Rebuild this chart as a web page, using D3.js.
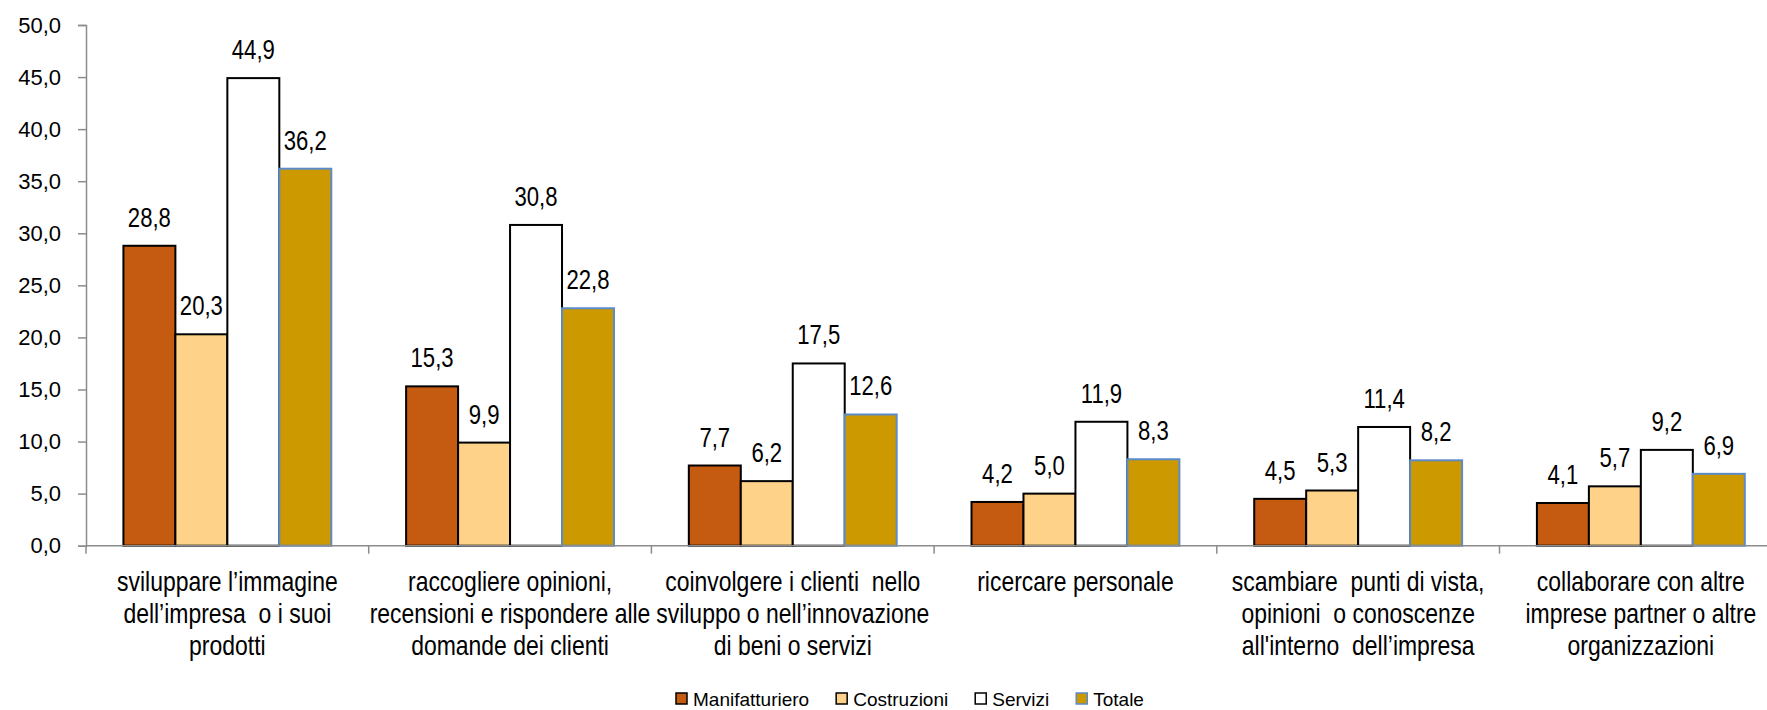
<!DOCTYPE html>
<html>
<head>
<meta charset="utf-8">
<script src="https://cdn.jsdelivr.net/npm/d3@7"></script>
<style>
  html, body { margin: 0; padding: 0; background: #fff; }
  svg { display: block; }
  text { font-family: "Liberation Sans", Arial, sans-serif; fill: #000; }
</style>
</head>
<body>
<svg id="chart" width="1767" height="710"></svg>
<script>
const categories = [
  ["sviluppare l\u2019immagine", "dell\u2019impresa  o i suoi", "prodotti"],
  ["raccogliere opinioni,", "recensioni e rispondere alle", "domande dei clienti"],
  ["coinvolgere i clienti  nello", "sviluppo o nell\u2019innovazione", "di beni o servizi"],
  ["ricercare personale"],
  ["scambiare  punti di vista,", "opinioni  o conoscenze", "all'interno  dell\u2019impresa"],
  ["collaborare con altre", "imprese partner o altre", "organizzazioni"]
];
const seriesNames = ["Manifatturiero", "Costruzioni", "Servizi", "Totale"];
const manifatturiero = [28.8, 15.3, 7.7, 4.2, 4.5, 4.1];
const costruzioni    = [20.3, 9.9, 6.2, 5.0, 5.3, 5.7];
const servizi        = [44.9, 30.8, 17.5, 11.9, 11.4, 9.2];
const totale         = [36.2, 22.8, 12.6, 8.3, 8.2, 6.9];
const yTicks = [0, 5, 10, 15, 20, 25, 30, 35, 40, 45, 50];

const seriesValues = [manifatturiero, costruzioni, servizi, totale];
const fills   = ["#C55A11", "#FFD28A", "#FFFFFF", "#CC9900"];
const strokes = ["#000000", "#000000", "#000000", "#5B8BC9"];
const strokeW = [2, 2, 2, 2];

const svg = d3.select("#chart");
const fmt = v => d3.format(".1f")(v).replace(".", ",");

const x0 = d3.scaleBand().domain(d3.range(categories.length)).range([86, 86 + 6 * 282.7]).padding(0);
const x1 = d3.scaleBand().domain(d3.range(seriesNames.length)).range([0, x0.bandwidth()])
  .paddingInner(0).paddingOuter(0.72);
const y = d3.scaleLinear().domain([0, 50]).range([545.7, 25]);

const axisColor = "#8C8C8C";

// y axis
const yAxis = svg.append("g").attr("transform", "translate(86,0)")
  .call(d3.axisLeft(y).tickValues(yTicks).tickSize(8).tickPadding(17).tickFormat(fmt));
yAxis.select(".domain").attr("stroke", axisColor).attr("stroke-width", 1.5);
yAxis.selectAll(".tick line").attr("stroke", axisColor).attr("stroke-width", 1.5);
yAxis.selectAll(".tick text").attr("font-size", 22).attr("font-family", "Liberation Sans, Arial, sans-serif").attr("fill", "#000");

// bars
const groups = svg.append("g").selectAll("g").data(categories).join("g")
  .attr("transform", (d, i) => `translate(${x0(i)},0)`);

groups.each(function(cat, ci) {
  const g = d3.select(this);
  seriesValues.forEach((vals, si) => {
    const v = vals[ci];
    g.append("rect")
      .attr("x", x1(si)).attr("width", x1.bandwidth())
      .attr("y", y(v)).attr("height", y(0) - y(v))
      .attr("fill", fills[si]).attr("stroke", strokes[si]).attr("stroke-width", strokeW[si]);
    g.append("text")
      .attr("transform", `translate(${x1(si) + x1.bandwidth() / 2},${y(v) - 19}) scale(0.82,1)`)
      .attr("text-anchor", "middle").attr("font-size", 27)
      .text(fmt(v));
  });
});

// x axis
const xAxisG = svg.append("g");
xAxisG.append("line").attr("x1", 86).attr("x2", 1767).attr("y1", y(0)).attr("y2", y(0))
  .attr("stroke", axisColor).attr("stroke-width", 1.5);
xAxisG.selectAll("line.tk").data(d3.range(categories.length + 1)).join("line").attr("class", "tk")
  .attr("x1", i => 86 + i * x0.step()).attr("x2", i => 86 + i * x0.step())
  .attr("y1", y(0)).attr("y2", y(0) + 8)
  .attr("stroke", axisColor).attr("stroke-width", 1.5);

// category labels
categories.forEach((lines, ci) => {
  const cx = x0(ci) + x0.bandwidth() / 2;
  lines.forEach((ln, li) => {
    svg.append("text")
      .attr("transform", `translate(${cx},${590.5 + li * 32}) scale(0.82,1)`)
      .attr("text-anchor", "middle").attr("font-size", 28)
      .attr("xml:space", "preserve").style("white-space", "pre")
      .text(ln);
  });
});

// legend
const legend = svg.append("g");
let lx = 676;
seriesNames.forEach((name, si) => {
  legend.append("rect").attr("x", lx).attr("y", 693).attr("width", 11).attr("height", 11)
    .attr("fill", fills[si]).attr("stroke", strokes[si]).attr("stroke-width", 1.5);
  const t = legend.append("text").attr("x", lx + 17).attr("y", 706)
    .attr("font-size", 19).text(name);
  lx += 17 + t.node().getComputedTextLength() + 27;
});
</script>
</body>
</html>
